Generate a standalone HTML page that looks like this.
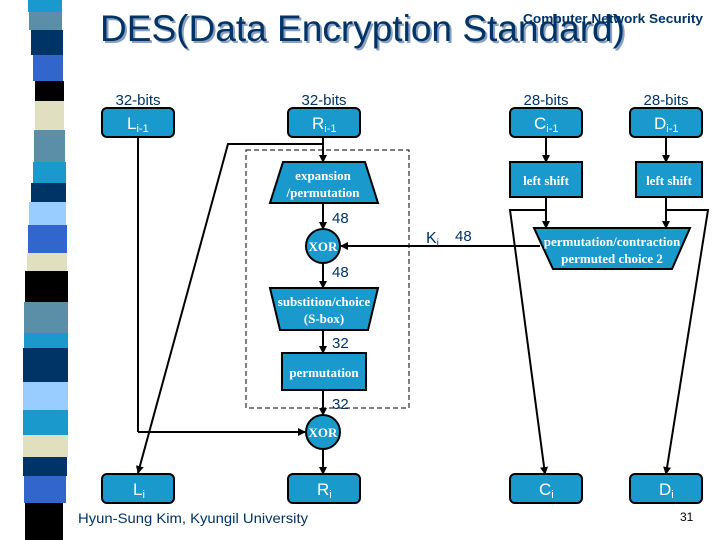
<!DOCTYPE html>
<html><head><meta charset="utf-8"><style>
html,body{margin:0;padding:0;background:#fff;}
svg{display:block;}
text{font-family:"Liberation Sans",sans-serif;}
.s{font-family:"Liberation Serif",serif;font-weight:bold;fill:#fff;font-size:13px;}
.b{fill:#1a99cc;stroke:#000;stroke-width:2;}
.n{fill:#003366;font-size:15px;}
.w{fill:#fff;font-size:17px;}
</style></head><body>
<svg width="720" height="540" viewBox="0 0 720 540" xmlns="http://www.w3.org/2000/svg">
<defs><marker id="a" markerWidth="8" markerHeight="8" refX="7" refY="4" orient="auto" markerUnits="userSpaceOnUse"><path d="M0,0 L8,4 L0,8 z" fill="#000"/></marker></defs>
<!-- stripes -->
<rect x="28" y="0" width="34" height="12" fill="#1a99cc"/>
<rect x="29" y="12" width="33" height="18" fill="#5b8fa8"/>
<rect x="31" y="30" width="32" height="25" fill="#003366"/>
<rect x="33" y="55" width="30" height="26" fill="#3366cc"/>
<rect x="35" y="81" width="29" height="20" fill="#000"/>
<rect x="35" y="101" width="29" height="29" fill="#e0e0c0"/>
<rect x="34" y="130" width="31" height="32" fill="#5b8fa8"/>
<rect x="33" y="162" width="33" height="21" fill="#1a99cc"/>
<rect x="31" y="183" width="35" height="19" fill="#003366"/>
<rect x="29" y="202" width="37" height="23" fill="#99ccff"/>
<rect x="28" y="225" width="39" height="28" fill="#3366cc"/>
<rect x="27" y="253" width="40" height="18" fill="#e0e0c0"/>
<rect x="25" y="271" width="43" height="31" fill="#000"/>
<rect x="24" y="302" width="44" height="31" fill="#5b8fa8"/>
<rect x="24" y="333" width="44" height="15" fill="#1a99cc"/>
<rect x="23" y="348" width="45" height="34" fill="#003366"/>
<rect x="23" y="382" width="45" height="28" fill="#99ccff"/>
<rect x="23" y="410" width="45" height="25" fill="#1a99cc"/>
<rect x="23" y="435" width="45" height="22" fill="#e0e0c0"/>
<rect x="23" y="457" width="44" height="19" fill="#003366"/>
<rect x="24" y="476" width="42" height="27" fill="#3366cc"/>
<rect x="25" y="503" width="38" height="37" fill="#000"/>
<!-- title -->
<text x="102" y="43" font-size="37" fill="#8aa0c0" textLength="525" lengthAdjust="spacingAndGlyphs">DES(Data Encryption Standard)</text>
<text x="100" y="41" font-size="37" fill="#003366" textLength="525" lengthAdjust="spacingAndGlyphs">DES(Data Encryption Standard)</text>
<text x="523" y="23" font-size="13" fill="#003366" font-weight="bold" textLength="180" lengthAdjust="spacingAndGlyphs">Computer Network Security</text>
<!-- labels -->
<text x="138" y="105" class="n" text-anchor="middle">32-bits</text>
<text x="324" y="105" class="n" text-anchor="middle">32-bits</text>
<text x="546" y="105" class="n" text-anchor="middle">28-bits</text>
<text x="666" y="105" class="n" text-anchor="middle">28-bits</text>
<!-- lines -->
<g stroke="#000" stroke-width="2" fill="none">
<line x1="138" y1="137" x2="138" y2="432"/>
<line x1="138" y1="432" x2="305" y2="432" marker-end="url(#a)"/>
<polyline points="323,137 323,144 228,144 138,473" marker-end="url(#a)"/>
<line x1="323" y1="144" x2="323" y2="162" marker-end="url(#a)"/>
<line x1="323" y1="203" x2="323" y2="229" marker-end="url(#a)"/>
<line x1="323" y1="263" x2="323" y2="288" marker-end="url(#a)"/>
<line x1="323" y1="330" x2="323" y2="353" marker-end="url(#a)"/>
<line x1="323" y1="390" x2="323" y2="415" marker-end="url(#a)"/>
<line x1="323" y1="449" x2="323" y2="474" marker-end="url(#a)"/>
<line x1="540" y1="246" x2="341" y2="246" marker-end="url(#a)"/>
<line x1="546" y1="137" x2="546" y2="162" marker-end="url(#a)"/>
<line x1="666" y1="137" x2="666" y2="162" marker-end="url(#a)"/>
<line x1="546" y1="197" x2="546" y2="228" marker-end="url(#a)"/>
<line x1="666" y1="197" x2="666" y2="228" marker-end="url(#a)"/>
<polyline points="546,210 510,210 545,474" marker-end="url(#a)"/>
<polyline points="666,210 708,210 666,474" marker-end="url(#a)"/>
</g>
<rect x="246" y="150" width="163" height="258" fill="none" stroke="#000" stroke-width="1" stroke-dasharray="5,3"/>
<!-- boxes -->
<rect x="102" y="108" width="72" height="29" rx="5" class="b"/>
<rect x="288" y="108" width="72" height="29" rx="5" class="b"/>
<rect x="510" y="108" width="72" height="29" rx="5" class="b"/>
<rect x="630" y="108" width="72" height="29" rx="5" class="b"/>
<rect x="102" y="474" width="72" height="29" rx="5" class="b"/>
<rect x="288" y="474" width="72" height="29" rx="5" class="b"/>
<rect x="510" y="474" width="72" height="29" rx="5" class="b"/>
<rect x="630" y="474" width="72" height="29" rx="5" class="b"/>
<text x="127" y="129" class="w">L<tspan font-size="11" dy="3">i-1</tspan></text>
<text x="312" y="129" class="w">R<tspan font-size="11" dy="3">i-1</tspan></text>
<text x="534" y="129" class="w">C<tspan font-size="11" dy="3">i-1</tspan></text>
<text x="654" y="129" class="w">D<tspan font-size="11" dy="3">i-1</tspan></text>
<text x="133" y="495" class="w">L<tspan font-size="11" dy="3">i</tspan></text>
<text x="317" y="495" class="w">R<tspan font-size="11" dy="3">i</tspan></text>
<text x="539" y="495" class="w">C<tspan font-size="11" dy="3">i</tspan></text>
<text x="659" y="495" class="w">D<tspan font-size="11" dy="3">i</tspan></text>
<polygon points="283,162 365,162 378,203 270,203" class="b"/>
<text x="323" y="180" class="s" text-anchor="middle">expansion</text>
<text x="323" y="197" class="s" text-anchor="middle">/permutation</text>
<circle cx="323" cy="246" r="17" class="b"/>
<text x="323" y="251" class="s" text-anchor="middle">XOR</text>
<polygon points="270,288 378,288 368,330 280,330" class="b"/>
<text x="324" y="306" class="s" text-anchor="middle">substition/choice</text>
<text x="324" y="323" class="s" text-anchor="middle">(S-box)</text>
<rect x="282" y="353" width="84" height="37" class="b"/>
<text x="324" y="377" class="s" text-anchor="middle">permutation</text>
<circle cx="323" cy="432" r="17" class="b"/>
<text x="323" y="437" class="s" text-anchor="middle">XOR</text>
<rect x="510" y="162" width="72" height="35" class="b"/>
<rect x="636" y="162" width="66" height="35" class="b"/>
<text x="546" y="185" class="s" text-anchor="middle">left shift</text>
<text x="669" y="185" class="s" text-anchor="middle">left shift</text>
<polygon points="534,228 690,228 672,269 553,269" class="b"/>
<text x="612" y="246" class="s" text-anchor="middle">permutation/contraction</text>
<text x="612" y="263" class="s" text-anchor="middle">permuted choice 2</text>
<!-- numbers -->
<g class="n" font-size="14">
<text x="332" y="223">48</text>
<text x="332" y="277">48</text>
<text x="332" y="348">32</text>
<text x="332" y="409">32</text>
<text x="455" y="241">48</text>
<text x="426" y="243" font-size="16">K<tspan font-size="10" dy="3">i</tspan></text>
</g>
<text x="78" y="523" font-size="14" fill="#003366" textLength="230" lengthAdjust="spacingAndGlyphs">Hyun-Sung Kim, Kyungil University</text>
<text x="680" y="521" font-size="12" fill="#000">31</text>
</svg>
</body></html>
